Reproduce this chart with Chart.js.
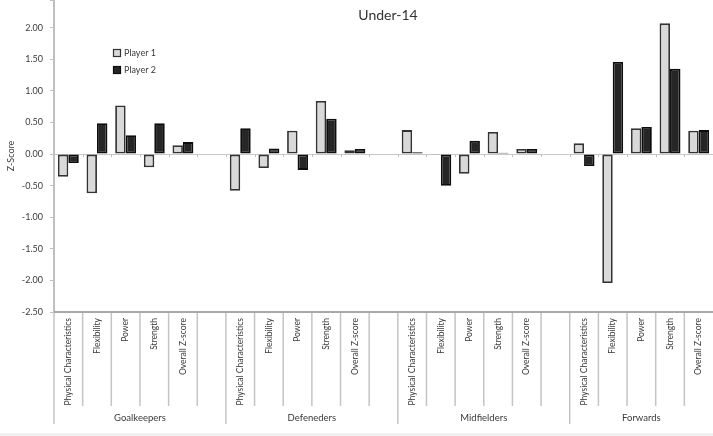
<!DOCTYPE html>
<html>
<head>
<meta charset="utf-8">
<script src="https://cdn.jsdelivr.net/npm/chart.js@4"></script>
<style>
  html, body { margin: 0; padding: 0; background: #fff; }
  #wrap { position: relative; width: 713px; height: 436px; overflow: hidden; }
  #band { position: absolute; left: 0; right: 0; bottom: 0; height: 3px; background: #f1f1f1; }
</style>
</head>
<body>
<div id="wrap">
  <canvas id="chart" width="713" height="436"></canvas>
  <div id="band"></div>
</div>
<script>
const chartTitle = 'Under-14';
const groups = ['Goalkeepers', 'Defeneders', 'Midfielders', 'Forwards'];
const measures = ['Physical Characteristics', 'Flexibility', 'Power', 'Strength', 'Overall Z-score'];
// null = empty slot between two groups
const player1 = [-0.36, -0.62, 0.77, -0.21, 0.14, null,
                 -0.58, -0.22, 0.37, 0.84, 0.06, null,
                 0.38, -0.01, -0.31, 0.35, 0.08, null,
                 0.17, -2.04, 0.41, 2.07, 0.37];
const player2 = [-0.14, 0.49, 0.30, 0.49, 0.19, null,
                 0.41, 0.09, -0.25, 0.56, 0.08, null,
                 0.03, -0.50, 0.21, 0.02, 0.08, null,
                 -0.19, 1.46, 0.43, 1.35, 0.38];
// the top of the original plot (2.50) is cut off by the picture
const yMin = -2.5, yMax = 2.44, yStep = 0.5;

const FONT = 'Lato, "Open Sans", sans-serif';
const TEXT = '#3a3a3a';

// labels: the five measures per group, with a blank slot after each group but the last
let labels = [];
let groupStart = [];
groups.forEach((g, i) => {
    groupStart.push(labels.length);
    labels = labels.concat(measures);
    if (i < groups.length - 1) labels.push('');
});

const decor = {
    id: 'decor',
    afterDraw(chart) {
        const ctx = chart.ctx;
        const a = chart.chartArea;
        const x = chart.scales.x, y = chart.scales.y;
        const n = labels.length;
        const step = x.getPixelForValue(1) - x.getPixelForValue(0);
        const edge = i => x.getPixelForValue(i) - step / 2;
        const line = (x1, y1, x2, y2) => { ctx.beginPath(); ctx.moveTo(x1, y1); ctx.lineTo(x2, y2); ctx.stroke(); };
        ctx.save();

        // little ticks under the zero line
        const y0 = y.getPixelForValue(0);
        ctx.strokeStyle = '#c0c0c0';
        ctx.lineWidth = 1;
        for (let i = 1; i < n; i++) line(Math.round(edge(i)) + 0.5, y0, Math.round(edge(i)) + 0.5, y0 + 3);

        // separators in the label area
        ctx.strokeStyle = '#c4c4c4';
        ctx.lineWidth = 1.5;
        for (let i = 0; i < n; i++) {
            const long = groupStart.includes(i);
            line(edge(i), a.bottom, edge(i), a.bottom + (long ? 112 : 94));
        }

        // bottom axis line
        ctx.strokeStyle = '#a8a8a8';
        ctx.lineWidth = 2;
        line(a.left, a.bottom, a.right, a.bottom);

        // rotated category labels
        ctx.fillStyle = TEXT;
        ctx.font = '8.5px ' + FONT;
        ctx.textAlign = 'right';
        ctx.textBaseline = 'middle';
        labels.forEach((lab, i) => {
            if (!lab) return;
            ctx.save();
            ctx.translate(x.getPixelForValue(i), a.bottom + 6);
            ctx.rotate(-Math.PI / 2);
            ctx.fillText(lab, 0, 0);
            ctx.restore();
        });

        // group labels
        ctx.font = '9.5px ' + FONT;
        ctx.textAlign = 'center';
        groups.forEach((g, i) => {
            const s = groupStart[i];
            const e = i < groups.length - 1 ? groupStart[i + 1] : n;
            ctx.fillText(g, (edge(s) + edge(e)) / 2, a.bottom + 106);
        });

        // title
        ctx.font = '14px ' + FONT;
        ctx.fillStyle = '#333';
        ctx.fillText(chartTitle, 388, 15);

        // legend
        ctx.font = '9px ' + FONT;
        ctx.textAlign = 'left';
        chart.data.datasets.forEach((ds, i) => {
            const ly = 53 + i * 17;
            ctx.fillStyle = ds.backgroundColor;
            ctx.fillRect(113.5, ly - 3.5, 7, 7);
            ctx.strokeStyle = ds.borderColor;
            ctx.lineWidth = 1.2;
            ctx.strokeRect(113.5, ly - 3.5, 7, 7);
            ctx.fillStyle = TEXT;
            ctx.fillText(ds.label, 124, ly);
        });
        ctx.restore();
    }
};

new Chart(document.getElementById('chart'), {
    type: 'bar',
    data: {
        labels: labels,
        datasets: [
            { label: 'Player 1', data: player1, backgroundColor: '#d9d9d9', borderColor: '#333333', borderWidth: 1.8, borderSkipped: false },
            { label: 'Player 2', data: player2, backgroundColor: '#262626', borderColor: '#0d0d0d', borderWidth: 1.8, borderSkipped: false }
        ]
    },
    options: {
        responsive: false,
        animation: false,
        layout: { padding: { top: 0, right: 0, bottom: 124, left: 0 } },
        datasets: { bar: { categoryPercentage: 0.73, barPercentage: 1.0 } },
        plugins: { legend: { display: false }, tooltip: { enabled: false } },
        scales: {
            x: { display: false, offset: true },
            y: {
                min: yMin,
                max: yMax,
                afterFit: s => { s.width = 54; s.paddingTop = 0; s.paddingBottom = 0; },
                border: { color: '#c0c0c0', width: 2 },
                grid: {
                    color: c => c.tick && c.tick.value === 0 ? '#c8c8c8' : 'rgba(0,0,0,0)',
                    tickColor: '#c0c0c0',
                    tickLength: 4
                },
                ticks: {
                    stepSize: yStep,
                    padding: 7,
                    color: TEXT,
                    font: { family: FONT, size: 9 },
                    callback: v => v > 2.01 ? '' : v.toFixed(2)
                },
                title: { display: true, text: 'Z-Score', color: TEXT, font: { family: FONT, size: 9 }, padding: { top: 6, bottom: 0 } }
            }
        }
    },
    plugins: [decor]
});
</script>
</body>
</html>
